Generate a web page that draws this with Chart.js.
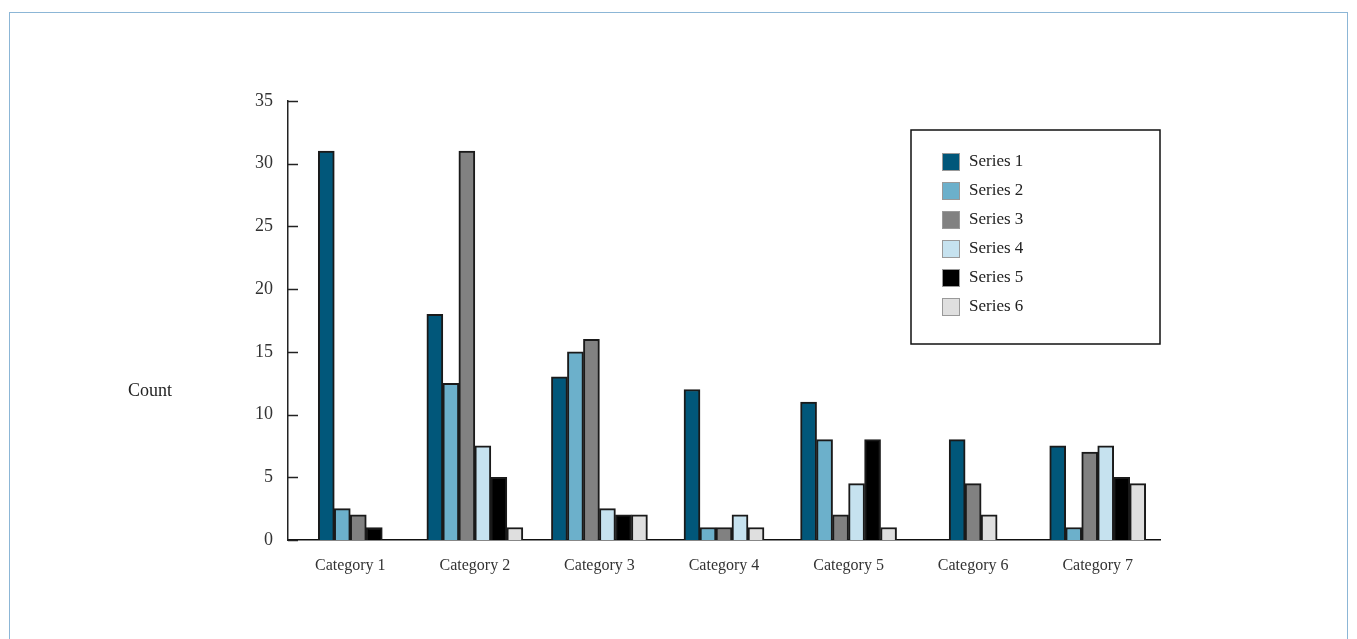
<!DOCTYPE html>
<html>
<head>
<meta charset="utf-8">
<script src="https://cdn.jsdelivr.net/npm/chart.js"></script>
<style>
  html, body { margin: 0; padding: 0; background: #fff; overflow: hidden; }
  #moldura { position: absolute; left: 9px; top: 12px; width: 1337px; height: 700px; border: 1px solid #8cb6d6; }
  #wrap { position: absolute; left: 0; top: 0; width: 1357px; height: 639px; }
</style>
</head>
<body>
<div id="moldura"></div>
<div id="wrap"><canvas id="grafico"></canvas></div>
<script>
// Dados do gráfico
const categorias = ['Category 1', 'Category 2', 'Category 3', 'Category 4', 'Category 5', 'Category 6', 'Category 7'];
const nomesSeries = ['Series 1', 'Series 2', 'Series 3', 'Series 4', 'Series 5', 'Series 6'];
const serie1 = [31, 18, 13, 12, 11, 8, 7.5];
const serie2 = [2.5, 12.5, 15, 1, 8, null, 1];
const serie3 = [2, 31, 16, 1, 2, 4.5, 7];
const serie4 = [null, 7.5, 2.5, 2, 4.5, null, 7.5];
const serie5 = [1, 5, 2, null, 8, null, 5];
const serie6 = [null, 1, 2, 1, 1, 2, 4.5];
const tituloY = ['Count'];

const cores = ['#01577a', '#6cb0cb', '#818181', '#c6e2ef', '#000000', '#dfdfdf'];
const valores = [serie1, serie2, serie3, serie4, serie5, serie6];
const fonte = '"Liberation Serif", "DejaVu Serif", serif';

// Marcas do eixo Y para dentro, legenda em caixa e título horizontal
const extras = {
    id: 'extras',
    afterDraw(chart) {
        const ctx = chart.ctx;
        const area = chart.chartArea;
        const y = chart.scales.y;

        ctx.save();
        ctx.strokeStyle = '#222';
        ctx.lineWidth = 1.5;
        y.ticks.forEach(t => {
            const py = Math.round(y.getPixelForValue(t.value)) + 0.5;
            ctx.beginPath();
            ctx.moveTo(area.left, py);
            ctx.lineTo(area.left + 10, py);
            ctx.stroke();
        });

        // título do eixo Y
        ctx.fillStyle = '#222';
        ctx.font = '18px ' + fonte;
        ctx.textAlign = 'center';
        ctx.textBaseline = 'middle';
        const cy = (area.top + area.bottom) / 2 + 71;
        tituloY.forEach((linha, i) => {
            ctx.fillText(linha, area.left - 138, cy + (i - (tituloY.length - 1) / 2) * 28);
        });

        // legenda
        const bx = area.right - 249, by = area.top + 29, bw = 249, bh = 214;
        ctx.lineWidth = 1.5;
        ctx.strokeStyle = '#111';
        ctx.strokeRect(bx, by, bw, bh);
        ctx.textAlign = 'left';
        ctx.font = '17px ' + fonte;
        chart.data.datasets.forEach((ds, i) => {
            const sy = by + 23 + i * 29;
            ctx.fillStyle = ds.backgroundColor;
            ctx.fillRect(bx + 31, sy, 18, 18);
            ctx.lineWidth = 1;
            ctx.strokeStyle = '#999';
            ctx.strokeRect(bx + 31.5, sy + 0.5, 17, 17);
            ctx.fillStyle = '#222';
            ctx.fillText(ds.label, bx + 58, sy + 9);
        });
        ctx.restore();
    }
};

new Chart(document.getElementById('grafico'), {
    type: 'bar',
    data: {
        labels: categorias,
        datasets: valores.map((v, i) => ({
            label: nomesSeries[i],
            data: v,
            backgroundColor: cores[i],
            borderColor: '#1a1a1a',
            borderWidth: 2,
            barThickness: 16,
            skipNull: true
        }))
    },
    options: {
        responsive: true,
        maintainAspectRatio: false,
        animation: false,
        layout: { padding: { left: 248, top: 101, right: 197, bottom: 39 } },
        plugins: {
            legend: { display: false },
            tooltip: { enabled: false }
        },
        scales: {
            x: {
                grid: { display: false },
                border: { display: true, color: '#111', width: 1.5 },
                ticks: { color: '#333', font: { family: fonte, size: 16 }, padding: 8, maxRotation: 0 },
                afterFit: s => { s.height = 60; }
            },
            y: {
                min: 0,
                max: 35,
                grid: { display: false },
                border: { display: true, color: '#222', width: 1.5 },
                ticks: { stepSize: 5, color: '#333', font: { family: fonte, size: 18 }, padding: 7 },
                afterFit: s => { s.width = 40; }
            }
        }
    },
    plugins: [extras]
});
</script>
</body>
</html>
